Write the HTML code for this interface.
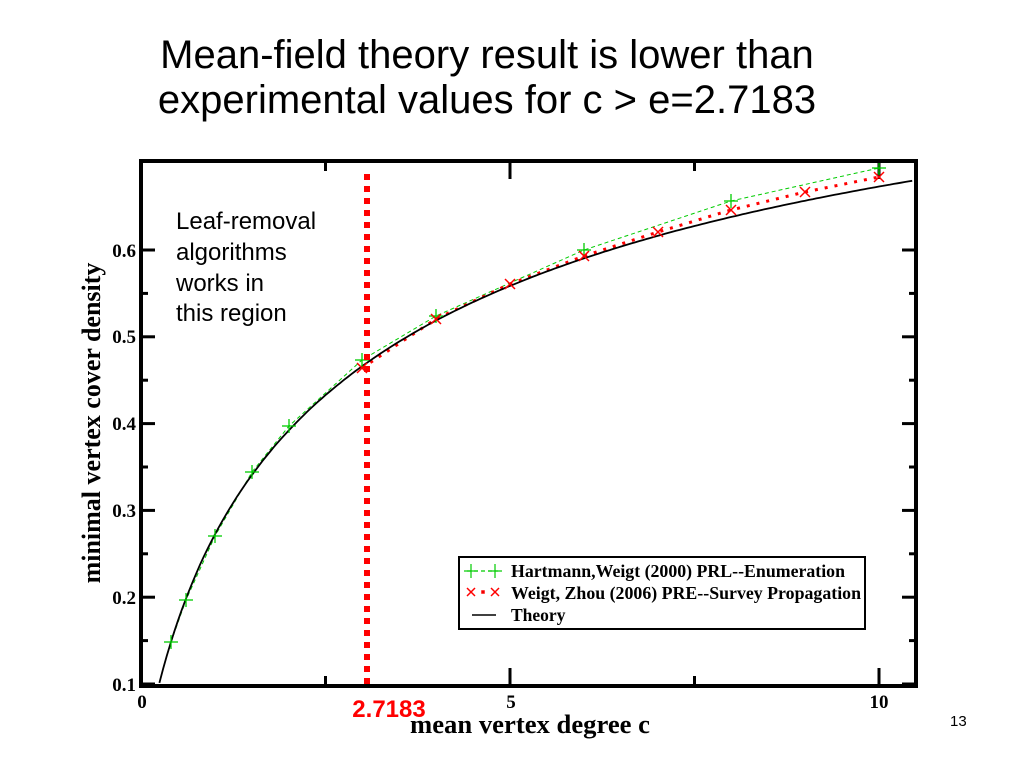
<!DOCTYPE html>
<html><head><meta charset="utf-8"><style>
body{margin:0;background:#fff;width:1024px;height:768px;overflow:hidden}
</style></head><body>
<svg width="1024" height="768" xmlns="http://www.w3.org/2000/svg" id="s">
<text x="487" y="68" font-family="Liberation Sans, sans-serif" font-size="40" text-anchor="middle">Mean-field theory result is lower than</text>
<text x="487" y="113" font-family="Liberation Sans, sans-serif" font-size="40" text-anchor="middle">experimental values for c &gt; e=2.7183</text>
<g id="plot"></g>
<rect x="141" y="161" width="775" height="525" fill="none" stroke="#000" stroke-width="4"/>
<line x1="367" y1="174" x2="367" y2="684" stroke="#f00" stroke-width="6" stroke-dasharray="6,6"/>
<g font-family="Liberation Sans, sans-serif" font-size="24">
<text x="176" y="229">Leaf-removal</text>
<text x="176" y="260">algorithms</text>
<text x="176" y="291">works in</text>
<text x="176" y="321">this region</text>
</g>
<g font-family="Liberation Serif, serif" font-weight="bold" font-size="19">
<text x="136" y="691" text-anchor="end">0.1</text>
<text x="136" y="604" text-anchor="end">0.2</text>
<text x="136" y="517" text-anchor="end">0.3</text>
<text x="136" y="430" text-anchor="end">0.4</text>
<text x="136" y="343" text-anchor="end">0.5</text>
<text x="136" y="257" text-anchor="end">0.6</text>
<text x="142" y="708" text-anchor="middle">0</text>
<text x="511" y="708" text-anchor="middle">5</text>
<text x="879" y="708" text-anchor="middle">10</text>
</g>
<text x="389" y="717" font-family="Liberation Sans, sans-serif" font-weight="bold" font-size="24" fill="#f00" text-anchor="middle">2.7183</text>
<text x="530" y="733" font-family="Liberation Serif, serif" font-weight="bold" font-size="26" text-anchor="middle" textLength="240" lengthAdjust="spacingAndGlyphs">mean vertex degree c</text>
<text transform="translate(100,423) rotate(-90)" font-family="Liberation Serif, serif" font-weight="bold" font-size="26" text-anchor="middle">minimal vertex cover density</text>
<text x="950" y="726" font-family="Liberation Sans, sans-serif" font-size="15">13</text>
<rect x="459" y="557" width="406" height="72" fill="#fff" stroke="#000" stroke-width="2"/>
<g font-family="Liberation Serif, serif" font-weight="bold" font-size="17.5" lengthAdjust="spacingAndGlyphs">
<text x="511" y="577" textLength="334" lengthAdjust="spacingAndGlyphs">Hartmann,Weigt (2000) PRL--Enumeration</text>
<text x="511" y="599" textLength="350" lengthAdjust="spacingAndGlyphs">Weigt, Zhou (2006) PRE--Survey Propagation</text>
<text x="511" y="621">Theory</text>
</g>
<g stroke="#0c0" stroke-width="1.2"><line x1="467" y1="571" x2="498" y2="571" stroke-dasharray="4,3"/><line x1="464" y1="571" x2="478" y2="571"/><line x1="471" y1="564" x2="471" y2="578"/><line x1="488" y1="571" x2="502" y2="571"/><line x1="495" y1="564" x2="495" y2="578"/></g>
<g stroke="#f00" stroke-width="1.5"><line x1="467" y1="588" x2="475" y2="596"/><line x1="475" y1="588" x2="467" y2="596"/><line x1="491" y1="588" x2="499" y2="596"/><line x1="499" y1="588" x2="491" y2="596"/><rect x="482" y="591" width="2" height="2"/></g>
<line x1="472" y1="615" x2="496" y2="615" stroke="#000" stroke-width="1.5"/>
</svg>
<script>
var g=document.getElementById('plot'),ns='http://www.w3.org/2000/svg';
function X(c){return 141+73.8*c}function Y(v){return 684-(v-0.1)*868}
function el(t,a){var e=document.createElementNS(ns,t);for(var k in a)e.setAttribute(k,a[k]);g.appendChild(e);return e}
function W(c){var w=Math.log(1+c);for(var i=0;i<50;i++){var e=Math.exp(w);w-=(w*e-c)/(e*(w+1));}return w}
function th(c){var w=W(c);return 1-(2*w+w*w)/(2*c)}
for(var i=0;i<=10;i++){var v=0.1+i*0.05,L=i%2?7:14,y=Y(v);if(y<163)break;el('line',{x1:141,y1:y,x2:141+L,y2:y,stroke:'#000','stroke-width':3});el('line',{x1:916,y1:y,x2:916-L,y2:y,stroke:'#000','stroke-width':3});}
for(var i=0;i<=4;i++){var c=i*2.5,L=i%2?10:18,x=X(c);el('line',{x1:x,y1:686,x2:x,y2:686-L,stroke:'#000','stroke-width':3});el('line',{x1:x,y1:161,x2:x,y2:161+L,stroke:'#000','stroke-width':3});}
var p='';for(var c=0.25;c<=10.5;c+=0.05){var v=th(c);if(v<0.1)continue;p+=(p?'L':'M')+X(c).toFixed(1)+','+Y(v).toFixed(1);}
var gr=[[171,642],[186,600],[215,536],[252,472],[289,426],[362,360],[436,316],[584,250],[731,201],[879,168]];
var rd=[[362,368],[436,319],[510,284],[584,256],[658,232],[731,210],[805,192],[879,177]];
function pl(a){return a.map(function(q,i){return (i?'L':'M')+q[0]+','+q[1]}).join('')}
el('path',{d:pl(gr),fill:'none',stroke:'#0c0','stroke-width':1,'stroke-dasharray':'4,3'});
el('path',{d:pl(rd),fill:'none',stroke:'#f00','stroke-width':3,'stroke-dasharray':'3,7'});
el('path',{d:p,fill:'none',stroke:'#000','stroke-width':1.8});
gr.forEach(function(q){el('line',{x1:q[0]-7,y1:q[1],x2:q[0]+7,y2:q[1],stroke:'#0c0','stroke-width':1.3});el('line',{x1:q[0],y1:q[1]-7,x2:q[0],y2:q[1]+7,stroke:'#0c0','stroke-width':1.3});});
rd.forEach(function(q){el('line',{x1:q[0]-5,y1:q[1]-5,x2:q[0]+5,y2:q[1]+5,stroke:'#f00','stroke-width':1.5});el('line',{x1:q[0]+5,y1:q[1]-5,x2:q[0]-5,y2:q[1]+5,stroke:'#f00','stroke-width':1.5});});
</script>
</body></html>
